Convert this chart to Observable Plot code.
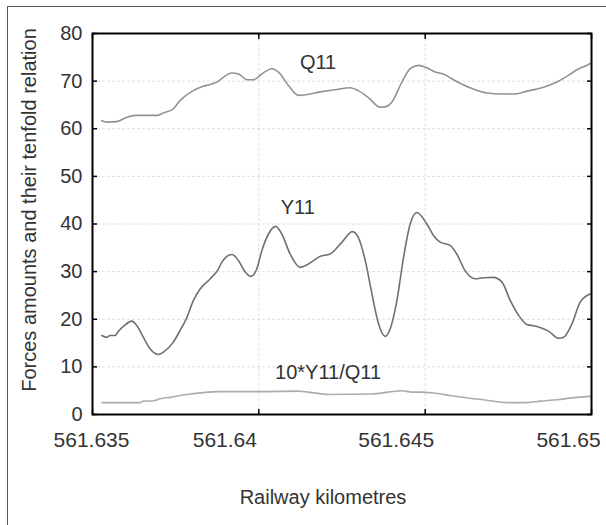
<!DOCTYPE html>
<html>
<head>
<meta charset="utf-8">
<script src="https://cdn.jsdelivr.net/npm/d3@7"></script>
<script src="https://cdn.jsdelivr.net/npm/@observablehq/plot@0.6"></script>
<style>
  html, body { margin: 0; padding: 0; background: #fff; overflow: hidden; }
  #wrap { position: relative; width: 606px; height: 525px; overflow: hidden; }
  #border { position: absolute; left: 7px; top: 6px; width: 700px; height: 700px; border: 1.5px solid #5a5a5a; box-sizing: border-box; }
  #chart { position: absolute; left: 0; top: 0; }
</style>
</head>
<body>
<div id="wrap"><div id="border"></div><div id="chart"></div></div>
<script>
// ---- data (railway kilometre, force values) ----
const q11Km = [561.63528, 561.63543, 561.63573, 561.63603, 561.63628, 561.63693, 561.63713, 561.63743, 561.63763, 561.63803,
  561.63833, 561.63854, 561.63879, 561.63889, 561.63919, 561.63939, 561.63964, 561.63984, 561.64009, 561.64039,
  561.64059, 561.64089, 561.64119, 561.64139, 561.64189, 561.64229, 561.64275, 561.64299, 561.64330, 561.64365,
  561.64385, 561.64400, 561.64430, 561.64455, 561.64480, 561.64505, 561.64530, 561.64555, 561.64585, 561.64635,
  561.64686, 561.64726, 561.64771, 561.64806, 561.64856, 561.64896, 561.64926, 561.64956, 561.64991, 561.64996];
const q11 = [61.7, 61.4, 61.5, 62.4, 62.8, 62.8, 63.3, 64.2, 65.9, 68.0,
  68.9, 69.3, 70.0, 70.6, 71.7, 71.5, 70.3, 70.3, 71.5, 72.6,
  71.9, 69.1, 67.0, 67.1, 67.8, 68.2, 68.6, 68.0, 66.5, 64.5,
  64.7, 65.6, 69.8, 72.6, 73.3, 72.8, 71.9, 71.5, 70.3, 68.6,
  67.5, 67.3, 67.3, 67.9, 68.7, 69.8, 71.0, 72.4, 73.5, 73.7];

const y11Km = [561.63528, 561.63543, 561.63553, 561.63568, 561.63578, 561.63593, 561.63618, 561.63633, 561.63653, 561.63673,
  561.63698, 561.63713, 561.63743, 561.63763, 561.63784, 561.63803, 561.63824, 561.63854, 561.63879, 561.63889,
  561.63919, 561.63939, 561.63959, 561.63976, 561.63994, 561.64009, 561.64029, 561.64051, 561.64069, 561.64094,
  561.64124, 561.64149, 561.64184, 561.64214, 561.64250, 561.64281, 561.64299, 561.64320, 561.64340, 561.64360,
  561.64380, 561.64395, 561.64415, 561.64435, 561.64455, 561.64475, 561.64505, 561.64525, 561.64545, 561.64575,
  561.64595, 561.64620, 561.64650, 561.64675, 561.64705, 561.64731, 561.64756, 561.64781, 561.64806, 561.64836,
  561.64871, 561.64901, 561.64916, 561.64941, 561.64966, 561.64996];
const y11 = [16.6, 16.2, 16.6, 16.6, 17.5, 18.5, 19.6, 18.7, 16.2, 13.8,
  12.6, 13.1, 15.2, 17.6, 20.4, 23.9, 26.4, 28.5, 30.6, 32.0,
  33.6, 32.3, 29.9, 29.0, 30.6, 34.4, 37.9, 39.5, 37.9, 33.7,
  30.9, 31.6, 33.2, 33.7, 36.2, 38.4, 37.2, 32.3, 25.3, 19.0,
  16.4, 18.0, 23.9, 33.0, 40.0, 42.4, 40.0, 37.6, 36.2, 35.5,
  33.7, 30.2, 28.5, 28.7, 28.8, 27.8, 23.9, 20.8, 18.9, 18.5,
  17.5, 16.0, 16.2, 19.0, 23.6, 25.3];

const ratioKm = [561.63528, 561.63643, 561.63653, 561.63683, 561.63703, 561.63733, 561.63784, 561.63833, 561.63884, 561.64004,
  561.64119, 561.64149, 561.64209, 561.64340, 561.64390, 561.64430, 561.64460, 561.64485, 561.64525, 561.64575,
  561.64635, 561.64695, 561.64746, 561.64806, 561.64846, 561.64896, 561.64956, 561.64996];
const ratio = [2.5, 2.5, 2.8, 2.9, 3.3, 3.6, 4.2, 4.6, 4.8, 4.8,
  4.9, 4.7, 4.2, 4.3, 4.7, 5.0, 4.7, 4.7, 4.5, 4.0,
  3.4, 2.9, 2.5, 2.5, 2.8, 3.1, 3.6, 3.8];

const seriesNames = ["Q11", "Y11", "10*Y11/Q11"];
const labelKm = [561.64178, 561.64117, 561.64208];
const labelValue = [73.8, 43.5, 8.9];

const xTicks = [561.635, 561.64, 561.645, 561.65];
const xTickLabels = ["561.635", "561.64", "561.645", "561.65"];
const yTicks = [0, 10, 20, 30, 40, 50, 60, 70, 80];
const xTitle = "Railway kilometres";
const yTitle = "Forces amounts and their tenfold relation";

// ---- build tables ----
const q11Data = q11Km.map((k, i) => ({km: k, v: q11[i]}));
const y11Data = y11Km.map((k, i) => ({km: k, v: y11[i]}));
const ratioData = ratioKm.map((k, i) => ({km: k, v: ratio[i]}));
const labels = seriesNames.map((n, i) => ({name: n, km: labelKm[i], v: labelValue[i]}));

const font = "'Liberation Sans', Arial, sans-serif";
const textColor = "#333";
const xShift = [-1, -34, -29, -23];

const marks = [
  Plot.gridY(yTicks.slice(1, -1), {stroke: "#dedede", strokeOpacity: 1, strokeDasharray: "3,2"}),
  Plot.gridX(xTicks.slice(1, -1), {stroke: "#dedede", strokeOpacity: 1, strokeDasharray: "3,2"}),
  Plot.line(q11Data, {x: "km", y: "v", stroke: "#929292", strokeWidth: 1.6, curve: "monotone-x"}),
  Plot.line(y11Data, {x: "km", y: "v", stroke: "#707070", strokeWidth: 1.6, curve: "monotone-x"}),
  Plot.line(ratioData, {x: "km", y: "v", stroke: "#acacac", strokeWidth: 1.6, curve: "monotone-x"}),
  Plot.text(labels, {x: "km", y: "v", text: "name", fontSize: 20, fill: textColor, fontFamily: font}),
  Plot.frame({stroke: "#000", strokeWidth: 2}),
  // inward ticks
  Plot.axisY(yTicks, {anchor: "left", tickSize: 5, dx: 5, fill: "none", stroke: "#000", strokeWidth: 1.5}),
  Plot.axisY(yTicks, {anchor: "right", tickSize: 5, dx: -5, fill: "none", stroke: "#000", strokeWidth: 1.5}),
  Plot.axisX(xTicks, {anchor: "bottom", tickSize: 5, dy: -5, fill: "none", stroke: "#000", strokeWidth: 1.5}),
  Plot.axisX(xTicks, {anchor: "top", tickSize: 5, dy: 5, fill: "none", stroke: "#000", strokeWidth: 1.5}),
  // tick labels
  Plot.axisY(yTicks, {anchor: "left", tickSize: 0, tickPadding: 10, label: null, fontSize: 20, fill: textColor, fontFamily: font}),
  ...xTicks.map((t, i) => Plot.axisX([t], {anchor: "bottom", tickSize: 0, tickPadding: 18, dx: xShift[i], label: null,
    tickFormat: () => xTickLabels[i], fontSize: 21, fill: textColor, fontFamily: font})),
  // axis titles
  Plot.text([yTitle], {frameAnchor: "left", textAnchor: "middle", lineAnchor: "middle", rotate: -90, dx: -63, dy: -14,
    fontSize: 20, fill: textColor, fontFamily: font}),
  Plot.text([xTitle], {frameAnchor: "bottom", textAnchor: "middle", lineAnchor: "middle", dx: -19, dy: 83,
    fontSize: 20, fill: textColor, fontFamily: font})
];

const chart = Plot.plot({
  width: 606,
  height: 525,
  marginLeft: 92,
  marginRight: 15,
  marginTop: 33,
  marginBottom: 111,
  style: {fontFamily: font, fontSize: "20px", background: "transparent", color: "#000"},
  x: {domain: [561.635, 561.65], axis: null},
  y: {domain: [0, 80], axis: null},
  marks
});
document.getElementById("chart").appendChild(chart);
</script>
</body>
</html>
